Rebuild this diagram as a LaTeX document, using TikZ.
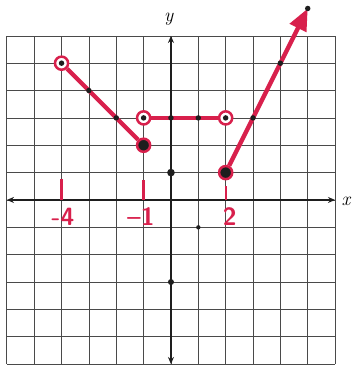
\documentclass[tikz,border=0pt]{standalone}
\usepackage{xcolor}
\usepackage{tikz}
\usetikzlibrary{arrows.meta}
\definecolor{cPen}{HTML}{D8204C}
\definecolor{cLead}{HTML}{1E1E1E}
\definecolor{cGrid}{HTML}{4A4A4A}
\tikzset{
  gridln/.style={draw=cGrid, line width=0.7pt},
  axis/.style={{Stealth[length=2.6mm,width=2.2mm]}-{Stealth[length=2.6mm,width=2.2mm]},
               line width=1.6pt, draw=cLead},
  graph/.style={draw=cPen, line width=4.5pt},
  ring/.style={circle, draw=cPen, line width=2.6pt, fill=white,
               minimum size=4.8mm, inner sep=0pt},
  shut/.style={ring, fill=cLead},
  dot/.style={circle, fill=cLead, minimum size=#1, inner sep=0pt},
  dot/.default=2mm,
  tickmk/.style={draw=cPen, line width=2.4pt},
  hand/.style={text=cPen, font=\sffamily\bfseries\fontsize{26}{26}\selectfont},
  axlbl/.style={font=\itshape\fontsize{20}{20}\selectfont},
}
\begin{document}
\begin{tikzpicture}[x=1cm, y=1cm]
  \useasboundingbox (-6.25,-6.07) rectangle (6.62,7.31);
  \draw[gridln] (-6,-6) grid (6,6);
  \draw[axis] (-6,0) -- (6,0);
  \draw[axis] (0,-6) -- (0,6);
  \node[axlbl] (ylab) at (-0.08,6.62) {y};
  \node[axlbl] (xlab) at (6.4,-0.05) {x};

  % end points of the three pieces
  \node[ring] (o1) at (-4,5) {};
  \node[shut] (c1) at (-1,2) {};
  \node[ring] (o2) at (-1,3) {};
  \node[ring] (o3) at (2,3) {};
  \node[shut] (c2) at (2,1) {};
  \coordinate (tip) at (5,7);

  \draw[graph] (o1) -- (c1);
  \draw[graph] (o2) -- (o3);
  \draw[graph, -{Triangle[length=8mm,width=6.5mm]}] (c2) -- (tip);

  % plotted points
  \foreach \p [count=\i] in {(-4,5),(-3,4),(-2,3),(-1,2),(-1,3),(0,3),(1,3),(2,3),(2,1),(3,3),(4,5),(5,7)}
    \node[dot] (d\i) at \p {};
  \node[dot=2.8mm] (e1) at (0,1) {};
  \node[dot=2.2mm] (e2) at (0,-3) {};
  \node[dot=1.6mm] (e3) at (1,-1) {};

  % marks on the x-axis
  \draw[tickmk] (-4,0.78) -- (-4,0);
  \draw[tickmk] (-1,0.72) -- (-1,0);
  \draw[tickmk] (2,0.5) -- (2,0);
  \node[hand] (lm4) at (-3.95,-0.62) {-4};
  \node[hand] (lm1) at (-1.1,-0.6) {--1};
  \node[hand] (lp2) at (2.15,-0.62) {2};
\end{tikzpicture}
\end{document}
